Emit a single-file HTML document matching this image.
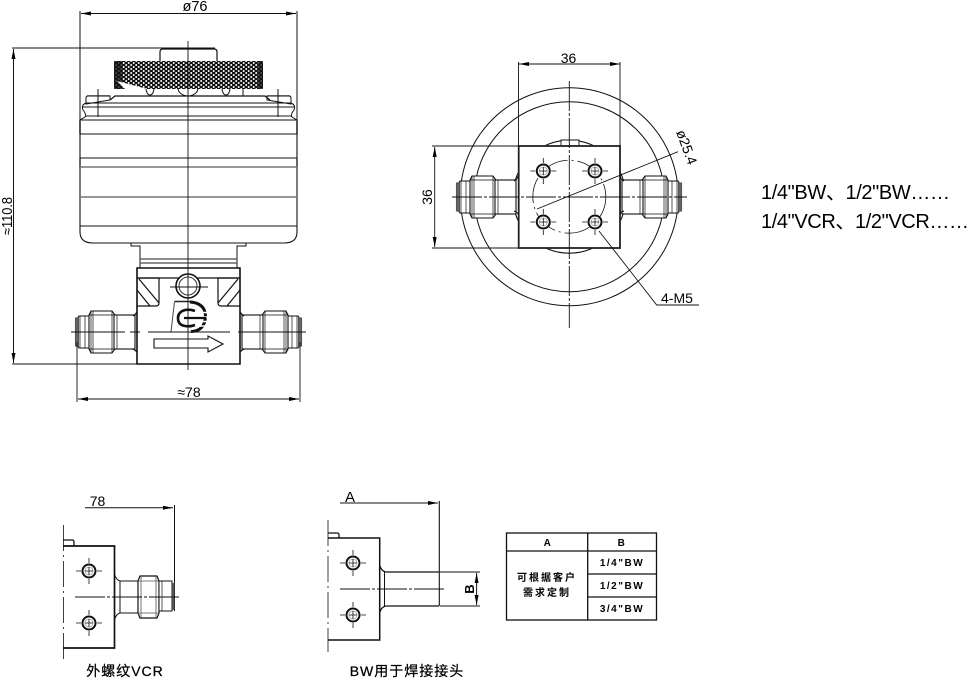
<!DOCTYPE html>
<html><head><meta charset="utf-8">
<style>html,body{margin:0;padding:0;background:#fff}svg{display:block}
text{font-family:"Liberation Sans","Noto Sans CJK SC",sans-serif;fill:#000}</style></head>
<body>
<svg xmlns="http://www.w3.org/2000/svg" width="969" height="678" viewBox="0 0 969 678">
<defs>
<pattern id="k" width="5" height="4" patternUnits="userSpaceOnUse"><rect width="5" height="4" fill="#111"/><circle cx="1.2" cy="1" r="1" fill="#fff"/><circle cx="3.7" cy="3" r="1" fill="#fff"/></pattern>
<marker id="a" markerWidth="10" markerHeight="6" refX="10" refY="3" orient="auto-start-reverse" markerUnits="userSpaceOnUse"><path d="M0 1 L10 3 L0 5Z" fill="#000"/></marker>
<g id="hole"><circle r="6.5" fill="#fff" stroke="#111" stroke-width="2"/><circle r="4" fill="none" stroke="#999" stroke-width=".7"/><path d="M-13 0H-8M-4 0H4M8 0H13M0 -13V-8M0 -4V4M0 8V13" stroke="#111" stroke-width=".8" fill="none"/></g>
<g id="fit" fill="#fff" stroke="#111" stroke-width="1.1">
<path d="M0 -13 L2 -16 H16 V16 H2 L0 13Z"/><rect x="-1.5" y="-14" width="3" height="28" fill="#666" stroke="#555"/>
<path d="M3 -16V16M8 -16V16" stroke-width=".7"/>
<path d="M14 -21 H35 L38 -17 V17 L35 21 H14 L12 17 V-17Z"/><path d="M14 -21V21M16 -21V21M35 -21V21M12 -17H38M12 17H38" stroke-width=".7"/>
<rect x="37" y="-17" width="21" height="34"/><path d="M40 -17V17" stroke-width=".7"/>
</g>
</defs>

<!-- front view -->
<g fill="none" stroke="#111" stroke-width="1">
<path d="M80 11V120M297 11V120M12 48H215"/>
<path d="M81 13.5H296" marker-start="url(#a)" marker-end="url(#a)"/>
<path d="M13.5 49V363" marker-start="url(#a)" marker-end="url(#a)"/>
<path d="M12 364H137"/>
<path d="M160 61V52Q160 49 163 49H214Q217 49 217 52V61" stroke-width="1.2"/>
<path d="M87 96 H110 M267 96 H290" stroke="#555" stroke-width="1.5"/>
<path d="M86 104 V98 Q86 96 88 96 H110 V100 L86 104Z M291 104 V98 Q291 96 289 96 H267 V100 L291 104Z" fill="#fff"/>
<path d="M110 100 L115 96 H265 L270 100" stroke-width="1.2"/>
<path d="M86 103 H291 Q296 105 294 110 Q290 115 292 117 L297 120 M86 103 Q81 105 83 110 Q87 115 85 117 L80 120"/>
<path d="M83 107H294" stroke="#666" stroke-width="1.6"/>
<path d="M86 116H291" stroke="#666" stroke-width="1.6"/>
<path d="M98 89V117M278 89V117M243 88V96"/>
<path d="M146 88 a4 7 0 0 0 8 0 M178 88 a10 8 0 0 0 20 0 M222 88 a4 7 0 0 0 8 0"/>
</g>
<rect x="114" y="61" width="149" height="28" rx="2" fill="url(#k)"/>
<path d="M114 61h8v28h-8zM258 61h5v28h-5z" fill="#111" opacity=".75"/>
<path d="M117 81 L140 87 L147 89 H125Z" fill="#fff"/>
<g fill="#fff" stroke="#111">
<path d="M80 120H297V232Q297 243 284 243H93Q80 243 80 232Z" stroke-width="1.1"/>
</g>
<g fill="none" stroke="#111">
<path d="M80 120V134M297 120V134" stroke="#555" stroke-width="2"/>
<path d="M80 134H297M80 158H297M80 226H297" />
<path d="M80 167H297M80 197H297" stroke="#777" stroke-width="1.4"/>
<path d="M80 158.500V167M297 158.500V167" stroke="#666" stroke-width="2"/>
</g>
<path d="M131 243H246V246H237V268H140V246H131Z" fill="#fff" stroke="#111"/>
<path d="M140 259H237M140 263H237" stroke="#666" stroke-width="1.4"/>
<use href="#fit" transform="translate(77,332)"/>
<use href="#fit" transform="translate(300,332) scale(-1,1)"/>
<path d="M137 268H240V364H137Z" fill="#fff" stroke="#111" stroke-width="1.6"/>
<path d="M137 278H240" stroke="#111" stroke-width="1.3"/>
<g fill="none" stroke="#111" stroke-width="1.2">
<path d="M137 278H159V303Q159 306 156 306H137M139 279L159 303M137 290L150 306"/>
<path d="M240 278H218V303Q218 306 221 306H240M238 279L218 303M240 290L227 306"/>
<path d="M137 312Q135 315 133 316M137 352Q135 350 133 349M240 312Q242 315 244 316M240 352Q242 350 244 349"/>
</g>
<circle cx="188" cy="286" r="12" fill="#fff" stroke="#111" stroke-width="1.6"/>
<circle cx="188" cy="286" r="9" fill="none" stroke="#333"/>
<!-- logo -->
<path d="M174.500 301.500H193" fill="none" stroke="#222" stroke-width="1.400"/>
<path d="M174.500 301.500L171 332H193" fill="none" stroke="#444" stroke-width="1"/>
<path d="M190 302Q205 303 205.500 316Q205 331 191 331.500" fill="none" stroke="#111" stroke-width="3"/>
<path d="M196 312.500H209M192 317H209M192 321.500H209M196 326H208" stroke="#fff" stroke-width="1.500"/>
<path d="M195 311Q190 309 185 310Q178 312 178 318Q178 325 185 326Q190 327 195 325" fill="none" stroke="#111" stroke-width="2.600"/>
<path d="M184 318H206" stroke="#111" stroke-width="2.200"/>
<path d="M154 339H208V336L223 344L208 352V348H154Z" fill="#fff" stroke="#111" stroke-width="1.100"/>
<g fill="none" stroke="#111" stroke-width=".9">
<path d="M188 41V370" />
<path d="M170 287H208"/>
<path d="M71 332H125M130 332H140M148 332H230M238 332H306"/>
<path d="M77 342V402M300 342V402"/>
<path d="M78 399H299" marker-start="url(#a)" marker-end="url(#a)"/>
</g>
<text x="195" y="11" font-size="14.500" text-anchor="middle">ø76</text>
<text x="189" y="397" font-size="14" text-anchor="middle">≈78</text>
<text transform="translate(12,216) rotate(-90)" font-size="14.500" text-anchor="middle" textLength="38" lengthAdjust="spacingAndGlyphs">≈110.8</text>

<!-- top view -->
<g fill="none" stroke="#111" stroke-width="1">
<circle cx="569.300" cy="196.700" r="109"/>
<circle cx="569.300" cy="196.700" r="95"/>
<circle cx="569.300" cy="196.700" r="56.500" stroke-width="1.100"/>
</g>
<path d="M561 140H579V146H561Z" fill="#fff" stroke="#111" stroke-width=".9"/>
<use href="#fit" transform="translate(458,197)"/>
<use href="#fit" transform="translate(680,197) scale(-1,1)"/>
<rect x="518.700" y="146" width="101.300" height="102" fill="#fff" stroke="#222" stroke-width="1.800"/>
<path d="M518 176Q517 180 514 181M518 214Q517 212 514 211M620 176Q621 180 624 181M620 214Q621 212 624 211" fill="none" stroke="#111"/>
<circle cx="569.300" cy="196.700" r="36.500" fill="none" stroke="#111" stroke-width=".8" stroke-dasharray="26 4 2 4"/>
<use href="#hole" x="543.300" y="171"/><use href="#hole" x="595" y="171"/><use href="#hole" x="543.300" y="222"/><use href="#hole" x="595" y="222"/>
<g fill="none" stroke="#111" stroke-width=".9">
<path d="M518.500 62V146M620 62V146M432 146H518M432 248H518"/>
<path d="M519 64H620" marker-start="url(#a)" marker-end="url(#a)"/>
<path d="M434.700 147V247" marker-start="url(#a)" marker-end="url(#a)"/>
<path d="M569.300 81V328M452 197H687" stroke-dasharray="30 2 3 2"/>
<path d="M537 209L678 151.700"/>
<path d="M599 231L656.700 305H699"/>
</g>
<text x="568.500" y="63" font-size="14" text-anchor="middle">36</text>
<text transform="translate(432,197) rotate(-90)" font-size="14" text-anchor="middle">36</text>
<text transform="translate(676,132) rotate(70)" font-size="14">ø25.4</text>
<text x="661" y="303" font-size="14">4-M5</text>

<text x="761" y="199" font-size="20" textLength="189" lengthAdjust="spacing">1/4"BW、1/2"BW……</text>
<text x="761" y="228" font-size="20" textLength="208" lengthAdjust="spacing">1/4"VCR、1/2"VCR……</text>

<!-- bottom-left -->
<g fill="none" stroke="#111" stroke-width="1">
<path d="M63.500 525V663" stroke-width=".8" stroke-dasharray="26 4 2 4"/>
<path d="M63 540H72Q74 540 74 542V546" stroke-width="1.300"/>
<path d="M63 546H114.500V648H63" stroke-width="1.700"/>
<path d="M85 507.700H173" marker-end="url(#a)"/>
<path d="M174.500 505V611"/>
</g>
<path d="M114.500 574Q116 580 120 581H138M114.500 620Q116 614 120 613H138" fill="none" stroke="#111"/>
<rect x="120" y="581" width="18" height="32" fill="#fff" stroke="#111"/>
<path d="M140 576H157L159 581V613L157 618H140L138 613V581Z" fill="#fff" stroke="#111" stroke-width="1.200"/>
<path d="M141 576V618M156 576V618M138 581H159M138 613H159" stroke="#555" stroke-width=".8"/>
<rect x="159" y="581" width="13" height="30" fill="#fff" stroke="#111"/>
<path d="M162 581V611" stroke="#111" stroke-width=".7"/>
<rect x="172" y="583" width="2.500" height="27" fill="#555"/>
<use href="#hole" x="89" y="571"/><use href="#hole" x="89" y="623"/>
<path d="M75 597H181" stroke="#111" stroke-width=".9" stroke-dasharray="30 2 3 2"/>
<text x="97.500" y="506" font-size="14" text-anchor="middle">78</text>
<text x="125" y="676" font-size="14" text-anchor="middle" letter-spacing="1" stroke="#000" stroke-width=".25">外螺纹VCR</text>

<!-- bottom-mid -->
<g fill="none" stroke="#111" stroke-width="1">
<path d="M328 520V652" stroke-width=".8" stroke-dasharray="26 4 2 4"/>
<path d="M328 533H337Q339 533 339 535V538" stroke-width="1.300"/>
<path d="M328 538H379.700V640H328" stroke-width="1.500"/>
<path d="M340 503H438" marker-end="url(#a)"/>
<path d="M439.300 501V606" stroke-width="1.100"/>
<path d="M379.700 565Q381 571 386 572H439M379.700 613Q381 607 386 606H439" stroke-width="1.200"/>
<path d="M384.500 572V606"/>
<path d="M440 572H480M440 606H480"/>
<path d="M476.600 573V605" marker-start="url(#a)" marker-end="url(#a)"/>
<path d="M340 589H446" stroke-width=".9" stroke-dasharray="30 2 3 2"/>
</g>
<use href="#hole" x="353" y="563"/><use href="#hole" x="353" y="615"/>
<text x="350" y="502" font-size="15" text-anchor="middle">A</text>
<text transform="translate(474,589) rotate(-90)" font-size="13" font-weight="bold" text-anchor="middle">B</text>
<text x="407" y="676" font-size="14" text-anchor="middle" letter-spacing="1" stroke="#000" stroke-width=".25">BW用于焊接接头</text>

<!-- table -->
<g fill="none" stroke="#111" stroke-width="1.300">
<rect x="506.500" y="533" width="150" height="87"/>
<path d="M506.500 551H656.500M587.700 533V620M587.700 574H656.500M587.700 597H656.500"/>
</g>
<g font-size="10" font-weight="bold" text-anchor="middle" letter-spacing="1.500">
<text x="548" y="546">A</text><text x="622" y="546">B</text>
<text x="622" y="566">1/4"BW</text><text x="622" y="589">1/2"BW</text><text x="622" y="612">3/4"BW</text>
<text x="547" y="581" letter-spacing="2">可根据客户</text><text x="547" y="596" letter-spacing="2">需求定制</text>
</g>
</svg>
</body></html>
